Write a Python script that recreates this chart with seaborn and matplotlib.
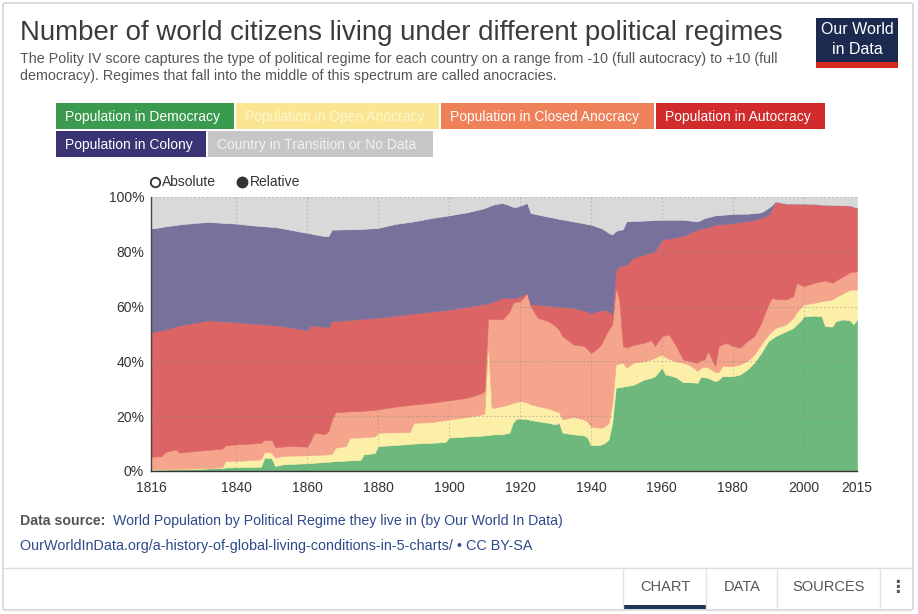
import matplotlib
matplotlib.use("Agg")
import matplotlib.pyplot as plt
from matplotlib.patches import Rectangle, FancyBboxPatch
from matplotlib.lines import Line2D
import seaborn as sns

# share of world population (%) by regime type
years = [1816, 1819, 1820, 1823, 1824, 1830, 1832, 1836, 1837, 1840, 1845, 1847,
         1848, 1850, 1851, 1853, 1855, 1860, 1861, 1862, 1865, 1866, 1867, 1868,
         1871, 1872, 1875, 1876, 1879, 1880, 1885, 1889, 1890, 1895, 1899, 1900,
         1905, 1909, 1910, 1911, 1912, 1913, 1915, 1917, 1918, 1919, 1920, 1921,
         1922, 1923, 1925, 1928, 1930, 1931, 1932, 1935, 1938, 1939, 1940, 1942,
         1943, 1944, 1945, 1946, 1947, 1948, 1949, 1950, 1952, 1955, 1957, 1958,
         1960, 1961, 1962, 1964, 1966, 1968, 1970, 1971, 1972, 1973, 1975, 1976,
         1977, 1978, 1980, 1982, 1984, 1986, 1988, 1990, 1991, 1992, 1995, 1997,
         1998, 1999, 2000, 2003, 2005, 2006, 2008, 2009, 2011, 2013, 2014, 2015]

democracy = [0.4, 0.5, 0.5, 0.6, 0.6, 0.8, 0.9, 1.1, 1.3, 1.4, 1.5, 1.6,
             4.9, 4.6, 1.8, 2.4, 2.6, 2.8, 2.9, 3.0, 3.3, 3.4, 3.5, 3.6,
             3.8, 3.9, 4.0, 6.1, 6.5, 9.1, 9.5, 9.9, 10.0, 10.3, 10.6, 12.2,
             12.6, 12.9, 13.0, 13.1, 13.3, 13.4, 13.4, 14.0, 17.6, 19.1, 19.1, 19.1,
             19.0, 18.6, 18.2, 17.6, 17.0, 17.6, 14.0, 13.4, 13.0, 12.2, 9.4, 9.5,
             9.7, 10.4, 11.5, 17.6, 30.4, 30.6, 30.8, 31.0, 31.5, 33.4, 34.0, 34.6,
             37.7, 35.2, 35.0, 34.2, 32.4, 32.4, 32.2, 34.4, 34.2, 34.0, 32.8, 33.3,
             34.6, 34.6, 34.6, 35.2, 37.0, 39.5, 43.1, 47.4, 48.3, 49.2, 51.0, 52.2,
             53.5, 54.7, 56.5, 56.7, 56.5, 52.9, 52.7, 54.7, 55.3, 55.0, 53.5, 55.3]

open_anocracy = [0.2, 0.2, 0.2, 0.2, 0.2, 0.2, 0.2, 0.2, 2.3, 2.3, 2.5, 2.7,
                 2.1, 2.1, 3.1, 3.1, 3.0, 2.9, 2.9, 2.9, 2.7, 2.7, 2.8, 4.9,
                 5.3, 8.3, 8.2, 6.3, 6.1, 4.9, 4.6, 4.3, 7.6, 7.5, 8.0, 6.6,
                 7.1, 7.7, 8.0, 33.7, 9.8, 9.7, 10.3, 10.3, 7.3, 6.1, 6.4, 6.2,
                 6.0, 5.7, 5.5, 5.2, 4.9, 3.9, 4.8, 6.3, 5.8, 5.8, 6.8, 6.4,
                 6.1, 6.0, 6.1, 7.3, 8.5, 8.6, 8.7, 6.7, 8.0, 6.7, 6.8, 6.7,
                 4.8, 6.3, 5.9, 5.8, 7.1, 6.2, 4.3, 3.3, 3.8, 3.8, 3.3, 2.8,
                 3.7, 3.7, 3.7, 3.7, 3.1, 3.0, 3.1, 2.4, 2.7, 3.0, 2.5, 3.7,
                 4.5, 4.8, 4.3, 4.7, 5.5, 9.3, 9.9, 8.8, 9.5, 11.2, 12.7, 10.9]

closed_anocracy = [4.6, 4.7, 6.2, 7.1, 5.9, 6.5, 6.6, 6.8, 5.8, 6.0, 6.1, 6.0,
                   4.3, 4.6, 3.8, 3.4, 3.5, 3.2, 5.2, 8.1, 7.4, 8.4, 12.5, 13.0,
                   12.6, 9.6, 9.7, 9.6, 9.7, 8.5, 9.4, 9.9, 6.7, 7.1, 7.0, 7.0,
                   7.0, 7.7, 8.2, 8.7, 32.4, 32.4, 31.6, 33.7, 36.5, 36.5, 36.5, 37.9,
                   40.0, 35.8, 32.2, 31.9, 31.0, 30.0, 30.4, 26.5, 26.8, 26.5, 26.9, 29.0,
                   30.7, 32.8, 34.0, 28.6, 27.9, 23.4, 6.1, 7.3, 6.5, 6.7, 7.0, 4.3,
                   6.7, 8.0, 8.9, 5.6, 1.2, 1.5, 3.0, 2.8, 2.7, 5.9, 2.2, 9.5,
                   7.9, 8.5, 7.3, 6.1, 7.3, 6.7, 7.9, 11.0, 12.2, 10.6, 9.1, 7.9,
                   10.7, 8.5, 6.6, 7.3, 7.3, 7.3, 6.1, 6.0, 6.2, 6.3, 6.5, 6.7]

autocracy = [45.5, 45.9, 44.7, 44.9, 46.4, 47.0, 47.3, 46.6, 45.2, 44.6, 43.7, 43.3,
             42.2, 42.0, 44.5, 44.0, 43.4, 42.5, 42.1, 39.0, 39.2, 38.1, 35.9, 33.3,
             33.3, 33.3, 33.6, 33.6, 33.5, 33.4, 33.2, 33.2, 33.2, 33.3, 33.1, 33.1,
             33.2, 32.5, 31.8, 5.7, 6.1, 6.5, 7.9, 5.2, 1.8, 1.6, 1.7, 1.0,
             0.0, 0.7, 4.9, 5.7, 7.2, 8.5, 10.7, 13.3, 13.0, 13.7, 14.6, 13.4,
             12.4, 9.4, 6.7, 3.6, 6.7, 12.1, 29.4, 30.3, 31.8, 32.2, 32.0, 34.6,
             35.2, 35.1, 35.0, 39.8, 45.0, 46.8, 48.6, 47.9, 48.0, 45.3, 51.6, 44.4,
             43.9, 43.4, 44.9, 45.9, 43.8, 42.4, 38.2, 32.7, 32.3, 35.6, 35.0, 33.8,
             28.9, 29.6, 30.2, 28.8, 27.9, 27.7, 28.4, 27.5, 26.0, 24.4, 23.8, 23.2]

colony = [37.8, 37.7, 37.7, 37.0, 36.9, 36.2, 35.9, 35.9, 35.9, 36.0, 35.8, 35.8,
          35.8, 35.8, 35.8, 35.7, 35.6, 35.5, 33.6, 33.4, 33.1, 33.1, 33.4, 33.3,
          33.2, 33.1, 32.8, 32.8, 32.8, 32.8, 33.5, 33.6, 33.6, 34.1, 34.4, 34.4,
          34.5, 34.8, 35.0, 35.3, 35.4, 35.4, 34.6, 33.8, 33.2, 33.1, 33.1, 33.1,
          32.8, 33.4, 32.8, 32.4, 32.2, 32.0, 31.9, 31.6, 31.8, 31.9, 32.2, 30.7,
          29.7, 29.2, 28.6, 29.2, 14.1, 13.3, 13.2, 15.8, 13.4, 12.4, 11.7, 11.4,
          7.3, 7.1, 6.9, 6.3, 6.0, 4.5, 3.0, 3.2, 3.6, 3.6, 3.4, 3.4,
          3.4, 3.4, 3.3, 3.0, 2.7, 2.5, 2.1, 2.5, 1.5, 0.0, 0.0, 0.0,
          0.0, 0.0, 0.0, 0.0, 0.0, 0.0, 0.0, 0.0, 0.0, 0.0, 0.0, 0.0]

no_data = [11.5, 11.0, 10.7, 10.2, 10.0, 9.3, 9.1, 9.4, 9.5, 9.7, 10.4, 10.6,
           10.7, 10.9, 11.0, 11.4, 11.9, 13.1, 13.3, 13.6, 14.3, 14.3, 11.9, 11.9,
           11.8, 11.8, 11.7, 11.6, 11.4, 11.3, 9.8, 9.1, 8.9, 7.7, 6.9, 6.7,
           5.6, 4.4, 4.0, 3.5, 3.0, 2.6, 2.2, 3.0, 3.6, 3.6, 3.2, 2.7,
           2.2, 5.8, 6.4, 7.2, 7.7, 8.0, 8.2, 8.9, 9.6, 9.9, 10.1, 11.0,
           11.4, 12.2, 13.1, 13.7, 12.4, 12.0, 11.8, 8.9, 8.8, 8.6, 8.5, 8.4,
           8.3, 8.3, 8.3, 8.3, 8.3, 8.6, 8.9, 8.4, 7.7, 7.4, 6.7, 6.6,
           6.5, 6.4, 6.2, 6.1, 6.1, 5.9, 5.6, 4.0, 3.0, 1.6, 2.4, 2.4,
           2.4, 2.4, 2.4, 2.5, 2.8, 2.8, 2.9, 3.0, 3.0, 3.1, 3.5, 3.9]

series_names = ["Population in Democracy", "Population in Open Anocracy",
                "Population in Closed Anocracy", "Population in Autocracy",
                "Population in Colony", "Country in Transition or No Data"]
button_colors = ["#3a9a4e", "#f9e592", "#ee8159", "#d12b2b", "#3b3474", "#c6c6c6"]
fill_colors = ["#6db87c", "#fcefa8", "#f4a58b", "#dc6465", "#77719c", "#d9d9d9"]

x_ticks = [1816, 1840, 1860, 1880, 1900, 1920, 1940, 1960, 1980, 2000, 2015]
y_ticks = [0, 20, 40, 60, 80, 100]

sns.set_style("white")
plt.rcParams["font.family"] = ["Liberation Sans", "DejaVu Sans"]

W, H = 918, 614
fig = plt.figure(figsize=(W / 100, H / 100), dpi=100)


def fx(x):
    return x / W


def fy(y):
    return 1 - y / H


def box(x0, y0, x1, y1, color, **kw):
    fig.add_artist(Rectangle((fx(x0), fy(y1)), (x1 - x0) / W, (y1 - y0) / H,
                             transform=fig.transFigure, facecolor=color,
                             edgecolor="none", **kw))


# card frame
fig.add_artist(FancyBboxPatch((fx(3), fy(610)), 910 / W, 607 / H,
                              boxstyle="round,pad=0,rounding_size=0.003",
                              transform=fig.transFigure, facecolor="white",
                              edgecolor="#cfcfcf", lw=1, zorder=0))

# header
fig.text(fx(20), fy(33), "Number of world citizens living under different political regimes",
         fontsize=19.9, color="#3b3b3b", va="center", ha="left")
fig.text(fx(20), fy(59), "The Polity IV score captures the type of political regime for each "
         "country on a range from -10 (full autocracy) to +10 (full",
         fontsize=10.3, color="#555555", va="center")
fig.text(fx(20), fy(76), "democracy). Regimes that fall into the middle of this spectrum are "
         "called anocracies.", fontsize=10.3, color="#555555", va="center")

# logo
box(816, 18, 898, 62, "#1b2a4e")
box(816, 62, 898, 68, "#d52b1e")
fig.text(fx(857), fy(30), "Our World", fontsize=11.5, color="white", ha="center",
         va="center")
fig.text(fx(857), fy(49), "in Data", fontsize=11.5, color="white", ha="center",
         va="center")

# legend buttons
button_boxes = [(56, 103, 234, 129), (236, 103, 439, 129), (441, 103, 654, 129),
                (656, 103, 825, 129), (56, 131, 206, 157), (208, 131, 433, 157)]
text_colors = ["white", "#fdf6d2", "white", "white", "white", "#f2f2f2"]
for name, col, tc, (x0, y0, x1, y1) in zip(series_names, button_colors, text_colors, button_boxes):
    box(x0, y0, x1, y1, col)
    fig.text(fx(x0 + 9), fy((y0 + y1) / 2 + 0.5), name, fontsize=10, color=tc,
             va="center", ha="left")

# absolute / relative toggle
fig.add_artist(Line2D([fx(155)], [fy(182)], marker="o", markersize=6.8,
                      markerfacecolor="white", markeredgecolor="#333333",
                      markeredgewidth=1.3, transform=fig.transFigure))
fig.text(fx(162), fy(182), "Absolute", fontsize=10, color="#333333", va="center")
fig.add_artist(Line2D([fx(242)], [fy(182)], marker="o", markersize=7.5,
                      markerfacecolor="#333333", markeredgecolor="#333333",
                      transform=fig.transFigure))
fig.text(fx(250), fy(182), "Relative", fontsize=10, color="#333333", va="center")

# chart
ax = fig.add_axes([fx(151), fy(471), (857 - 151) / W, (471 - 197) / H])
polys = ax.stackplot(years, democracy, open_anocracy, closed_anocracy, autocracy,
                     colony, no_data, colors=fill_colors, zorder=1)
for p, c in zip(polys, fill_colors):
    p.set_edgecolor(c)
    p.set_linewidth(0.4)

ax.set_xlim(1816, 2015)
ax.set_ylim(0, 100)
ax.set_xticks(x_ticks)
ax.set_xticklabels([str(t) for t in x_ticks])
ax.set_yticks(y_ticks)
ax.set_yticklabels([f"{t}%" for t in y_ticks])
ax.tick_params(axis="both", length=0, labelsize=10, labelcolor="#333333")
ax.tick_params(axis="x", pad=7)
ax.tick_params(axis="y", pad=5)

for t in y_ticks[1:]:
    ax.axhline(t, color="#8a8a8a", lw=0.8, ls=(0, (1.5, 2)), alpha=0.5, zorder=3)
for t in x_ticks[1:-1]:
    ax.axvline(t, color="#8a8a8a", lw=0.8, ls=(0, (1.5, 2)), alpha=0.4, zorder=3)

sns.despine(ax=ax, top=True, right=True)
ax.spines["left"].set_color("#444444")
ax.spines["left"].set_linewidth(1)
ax.spines["bottom"].set_color("#333333")
ax.spines["bottom"].set_linewidth(1)
ax.spines["bottom"].set_linestyle((0, (1.5, 1)))

# footer
fig.text(fx(20), fy(521), "Data source:", fontsize=10.2, color="#555555",
         fontweight="bold", va="center")
fig.text(fx(113), fy(521), "World Population by Political Regime they live in (by Our World In Data)",
         fontsize=10.2, color="#2d4a8a", va="center")
fig.text(fx(20), fy(546), "OurWorldInData.org/a-history-of-global-living-conditions-in-5-charts/ \u2022 CC BY-SA",
         fontsize=10.4, color="#2d4a8a", va="center")

# tab bar
fig.add_artist(Line2D([fx(4), fx(912)], [fy(568), fy(568)], color="#dddddd", lw=1,
                      transform=fig.transFigure))
for xs in [623, 706, 777, 880]:
    fig.add_artist(Line2D([fx(xs), fx(xs)], [fy(569), fy(609)], color="#e2e2e2", lw=1,
                          transform=fig.transFigure))
box(623, 605, 706, 609, "#1d3557")
for label, xc in [("CHART", 665), ("DATA", 742), ("SOURCES", 829)]:
    fig.text(fx(xc), fy(587), label, fontsize=10.5, color="#555555", ha="center", va="center")
fig.text(fx(897), fy(587), "\u22ee", fontsize=12, color="#555555", ha="center", va="center",
         fontweight="bold", family=["DejaVu Sans"])

fig.savefig("out.png", dpi=100)
